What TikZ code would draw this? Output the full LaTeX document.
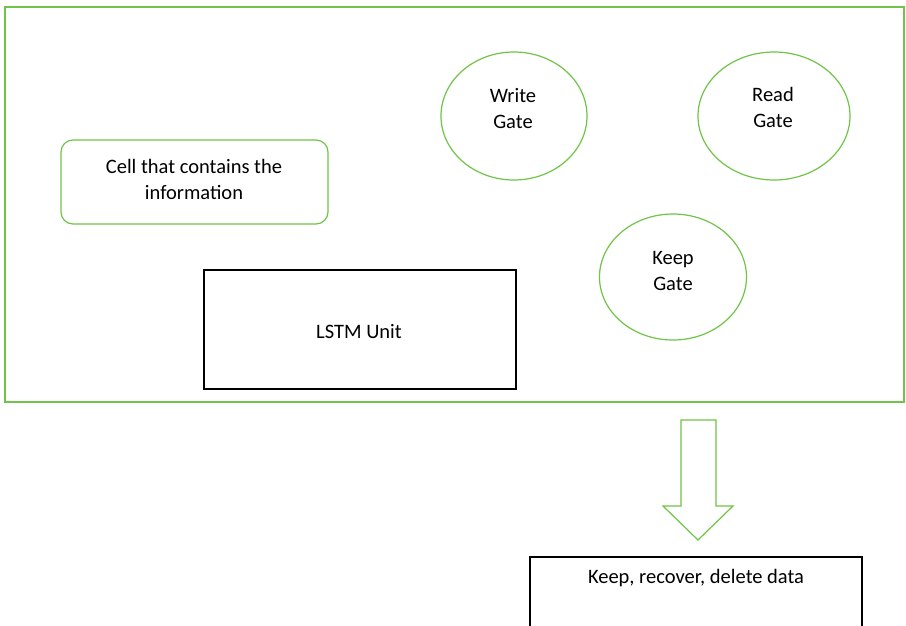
\documentclass[tikz,border=0pt]{standalone}
\usepackage{fontspec}
\setmainfont{Carlito}
\usetikzlibrary{shapes.geometric}
\definecolor{leaf}{RGB}{112,196,72}
\tikzset{
  frame/.style={draw=leaf, line width=1.3pt},
  gate/.style={ellipse, draw=leaf, line width=1.2pt, inner sep=0pt},
  cellbox/.style={rectangle, rounded corners=12pt, draw=leaf, line width=1.2pt},
  plainbox/.style={rectangle, draw=black, line width=1.2pt},
  label/.style={font=\fontsize{20.5}{26}\selectfont, align=center, inner sep=0pt}
}
\begin{document}
\begin{tikzpicture}[x=1pt, y=-1pt]
\useasboundingbox (0,0) rectangle (906,625);
\fill[white] (0,0) rectangle (906,625);

% outer container
\draw[frame] (5,7) rectangle (904,402);

% memory cell
\node[cellbox, minimum width=267pt, minimum height=84pt] (cell) at (194.5,182) {};
\node[label] (cellT) at (194,179) {Cell that contains the\\information};

% gates
\node[gate, minimum width=146pt, minimum height=128pt] (write) at (514,116) {};
\node[label] (writeT) at (513,109) {Write\\Gate};
\node[gate, minimum width=152pt, minimum height=128pt] (read) at (774,116) {};
\node[label] (readT) at (773,107) {Read\\Gate};
\node[gate, minimum width=147pt, minimum height=126pt] (keep) at (673,277) {};
\node[label] (keepT) at (673,271) {Keep\\Gate};

% LSTM unit
\node[plainbox, minimum width=312pt, minimum height=119pt] (lstm) at (360,329.5) {};
\node[label] (lstmT) at (359,332) {LSTM Unit};

% block arrow pointing down
\draw[draw=leaf, line width=1.2pt, line join=miter]
  (681,420) -- (716,420) -- (716,506) -- (733,506) -- (698,540)
  -- (663,506) -- (681,506) -- cycle;

% output box (runs past the lower edge)
\draw[black, line width=1.2pt] (530,640) -- (530,557) -- (862,557) -- (862,640);
\node[label] (out) at (696,578) {Keep, recover, delete data};
\end{tikzpicture}
\end{document}
